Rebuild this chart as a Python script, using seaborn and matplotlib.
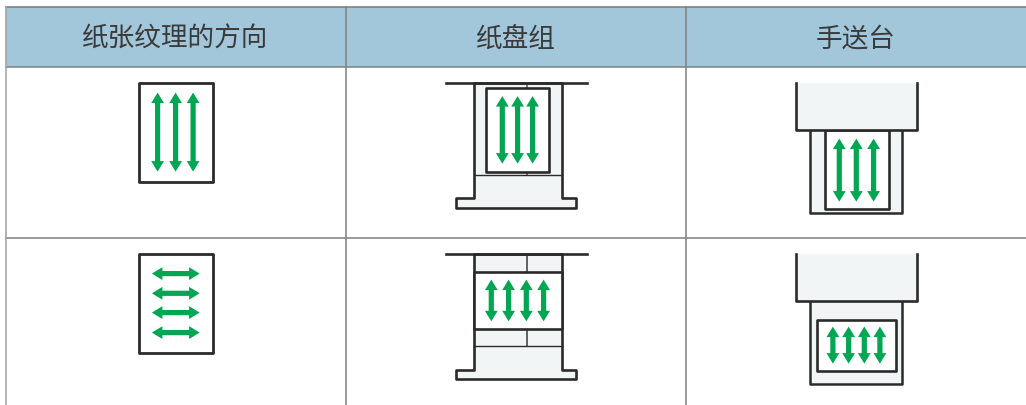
import matplotlib
matplotlib.use("Agg")
import matplotlib.pyplot as plt
import seaborn as sns
from matplotlib.patches import Polygon, Rectangle

# ---- content ----
headers = ["纸张纹理的方向", "纸盘组", "手送台"]
header_x = [175.5, 516, 856]
column_rules = [346.5, 686.5]
row_rules = [67, 238]

# paper rectangles: x0, x1, y0, y1
plain_papers = [(139, 213.3, 83.5, 182), (139, 213.3, 254.5, 353)]

# vertical double arrows: xs, y top, y bottom
v_arrows = [
    ([158, 176, 193.5], 93, 172),
    ([502.7, 518, 533], 96.5, 164),
    ([491.7, 509, 526.7, 544], 280, 321.7),
    ([839.7, 856.7, 874], 139, 202),
    ([833.3, 849, 864.7, 880.3], 327, 364),
]
# horizontal double arrows: x left, x right, ys
h_arrows = [(152.3, 200, [274, 293.7, 313, 333])]

HEADER = "#a2c7da"
RULE = "#808080"
INK = "#2b2a2b"
TRAY = "#f1f5f6"
GREEN = "#00a651"

sns.set_theme(style="white")
plt.rcParams["font.family"] = ["Noto Sans CJK SC", "DejaVu Sans"]

fig = plt.figure(figsize=(10.26, 4.06), dpi=100)
ax = fig.add_axes([0, 0, 1, 1])
ax.set_xlim(0.4, 1026.4)
ax.set_ylim(405.4, -0.6)
ax.axis("off")


def line(xs, ys, color=INK, lw=1.7, z=5):
    sns.lineplot(x=xs, y=ys, ax=ax, sort=False, estimator=None, color=color,
                 linewidth=lw, zorder=z, legend=False,
                 solid_capstyle="projecting", solid_joinstyle="round")


def rect(x0, x1, y0, y1, face="white", edge=INK, lw=1.9, z=4):
    ax.add_patch(Rectangle((x0, y0), x1 - x0, y1 - y0, facecolor=face,
                           edgecolor=edge, linewidth=lw, zorder=z,
                           joinstyle="round"))


def varrow(x, y0, y1, hw=6.4, hl=10.5, sw=2.6):
    ax.add_patch(Polygon([
        (x, y0), (x + hw, y0 + hl), (x + sw, y0 + hl), (x + sw, y1 - hl),
        (x + hw, y1 - hl), (x, y1), (x - hw, y1 - hl), (x - sw, y1 - hl),
        (x - sw, y0 + hl), (x - hw, y0 + hl)],
        closed=True, facecolor=GREEN, edgecolor="none", zorder=7))


def harrow(x0, x1, y, hw=6.4, hl=10.5, sw=2.6):
    ax.add_patch(Polygon([
        (x0, y), (x0 + hl, y - hw), (x0 + hl, y - sw), (x1 - hl, y - sw),
        (x1 - hl, y - hw), (x1, y), (x1 - hl, y + hw), (x1 - hl, y + sw),
        (x0 + hl, y + sw), (x0 + hl, y + hw)],
        closed=True, facecolor=GREEN, edgecolor="none", zorder=7))


# ---- table ----
ax.add_patch(Rectangle((6, 7), 1020.4, 60, facecolor=HEADER, edgecolor="none", zorder=1))
line([6, 1026.4], [7, 7], RULE, 1.2, 2)
for y in row_rules:
    line([6, 1026.4], [y, y], RULE, 1.1, 2)
line([6, 6], [7, 406], "#a0a0a0", 1.1, 2)
for x in column_rules:
    line([x, x], [7, 406], RULE, 1.1, 2)
for x, t in zip(header_x, headers):
    ax.text(x + 0.3, 38.6, t, ha="center", va="center", fontsize=19.2, color="#3a3a3a",
            fontweight="light")

# ---- grain direction ----
for p in plain_papers:
    rect(*p, lw=2.0)

# ---- paper tray group, row 1 ----
def tray_body(top, bottom, base):
    ax.add_patch(Polygon([(474, top), (562, top), (562, bottom), (576.7, bottom),
                          (576.7, base), (456.5, base), (456.5, bottom), (474, bottom)],
                         closed=True, facecolor=TRAY, edgecolor=INK, linewidth=1.9,
                         zorder=3, joinstyle="round"))
    line([446, 587], [top, top], INK, 1.9, 5)


tray_body(83.5, 198, 208)
line([474, 562], [175.3, 175.3], INK, 1.0)
line([527, 527], [83.5, 175.3], "#555555", 1.1, 3.5)
rect(486.7, 549.3, 88, 172)

# ---- paper tray group, row 2 ----
tray_body(254.7, 370, 379.3)
line([474, 562], [346.7, 346.7], INK, 1.0)
line([527, 527], [254.7, 346.7], "#555555", 1.3, 3.5)
rect(474, 562, 272, 329)

# ---- bypass tray ----
for top, box_bottom, tray_bottom in [(83.5, 130.3, 213.7), (254.7, 301.7, 384.7)]:
    rect(810.3, 902.7, box_bottom - 2, tray_bottom, face=TRAY, lw=1.8, z=3)
    ax.add_patch(Rectangle((796.3, top), 120.7, box_bottom - top, facecolor=TRAY,
                           edgecolor="none", zorder=4.5))
    line([796.3, 796.3, 917, 917], [top, box_bottom, box_bottom, top], INK, 1.9, 6)
rect(825.3, 889.3, 130.3, 209.3, z=4)
rect(817.3, 896.3, 320, 371, z=4)

# ---- arrows ----
for xs, y0, y1 in v_arrows:
    for x in xs:
        varrow(x, y0, y1)
for x0, x1, ys in h_arrows:
    for y in ys:
        harrow(x0, x1, y)

fig.savefig("out.png", dpi=100, facecolor="white")
